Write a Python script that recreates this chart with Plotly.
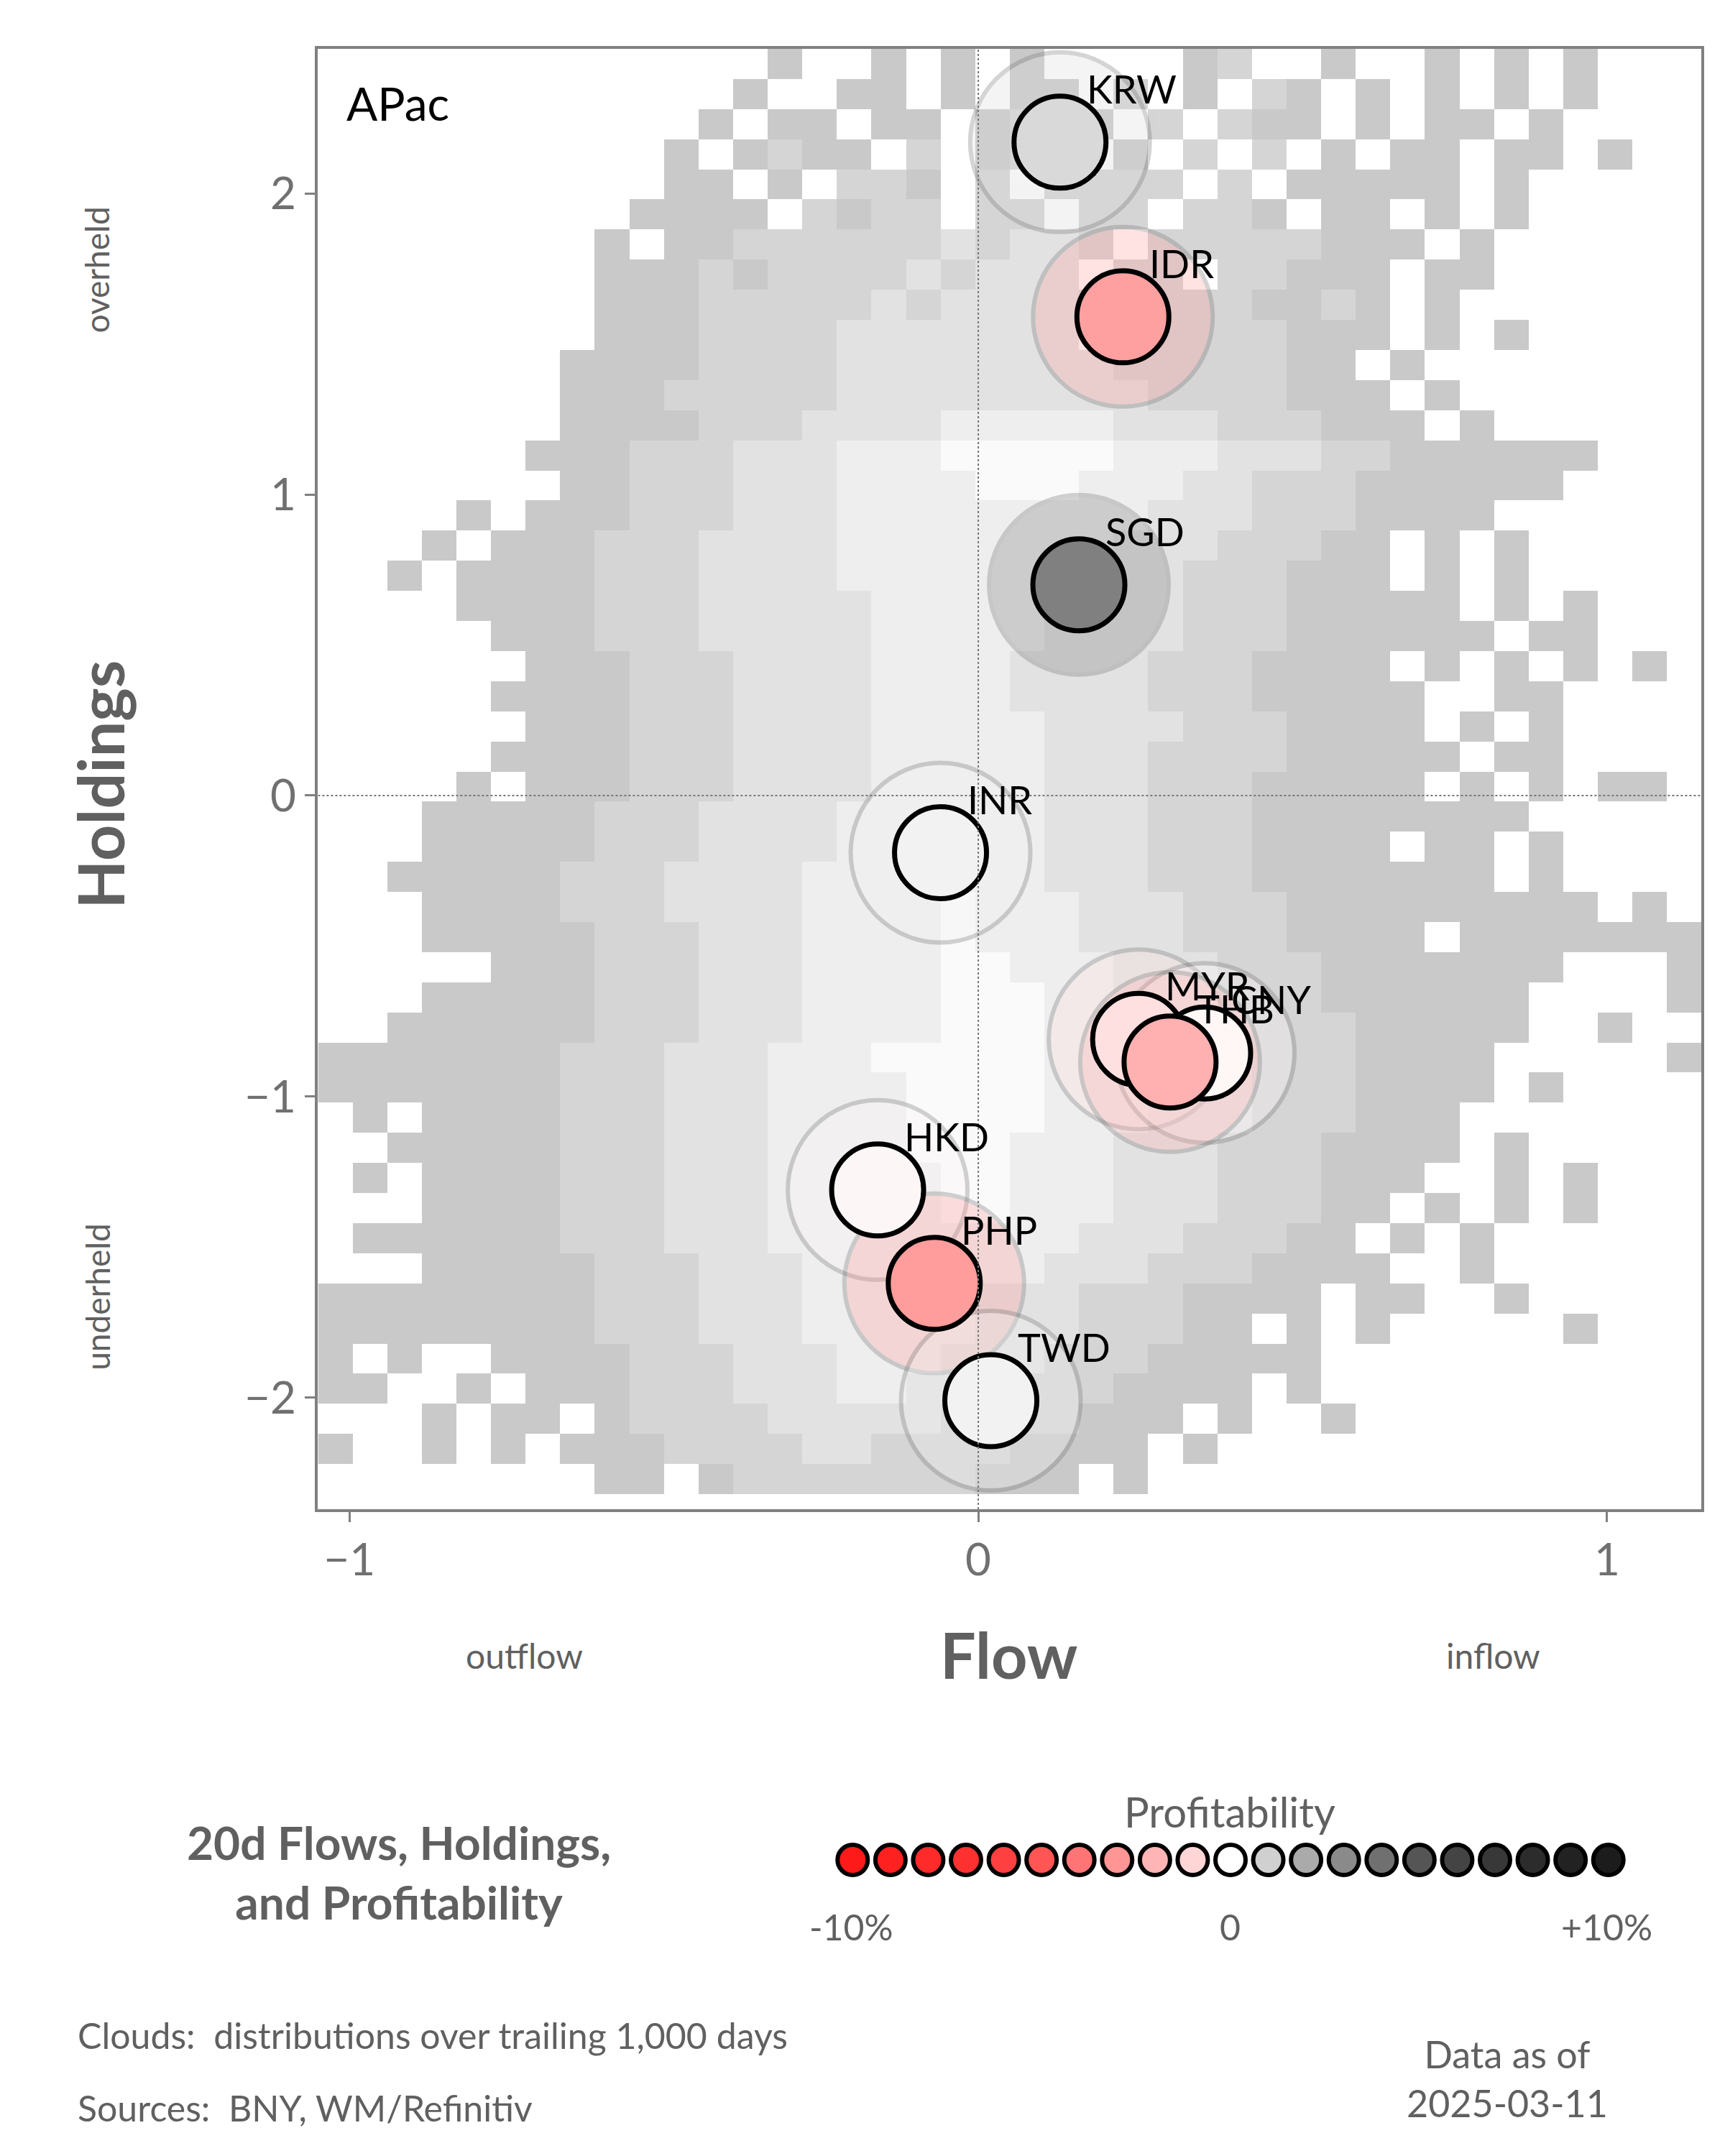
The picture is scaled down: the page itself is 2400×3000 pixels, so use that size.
import plotly.graph_objects as go

# ---- data ----
ccy = ["KRW", "IDR", "SGD", "INR", "MYR", "CNY", "THB", "HKD", "PHP", "TWD"]
flow = [0.13, 0.23, 0.16, -0.06, 0.255, 0.36, 0.305, -0.16, -0.07, 0.02]
hold = [2.17, 1.59, 0.70, -0.19, -0.81, -0.855, -0.885, -1.31, -1.62, -2.01]
fill = ["#d9d9d9", "#ffa0a0", "#808080", "#f2f2f2", "#ffe0e0", "#fff6f6",
        "#ffb0b0", "#fdf6f6", "#ff9c9c", "#f2f2f2"]

legend_colors = ["#ff1a1a", "#ff2020", "#ff2a2a", "#ff3030", "#ff4040", "#ff5555",
                 "#ff7575", "#ff9595", "#ffb5b5", "#ffd5d5", "#ffffff", "#d0d0d0",
                 "#aaaaaa", "#8a8a8a", "#707070", "#555555", "#444444", "#383838",
                 "#2c2c2c", "#222222", "#1c1c1c"]

# cloud density levels: rows top (y=2.43) to bottom, 40 columns from x=-1.0225 step 0.055
cloud = [
    "             1  1 1 1    12  1  1 1 1   ",
    "            1  11 1 11 2 1 21 1 1 1 1   ",
    "           1 11 11 1211 2 211 1 11 1    ",
    "          1 1211 2 122 1 2 2 1 11 11 1  ",
    "          11 1 221 2 2222 2 11111 1     ",
    "         1111 2122 22 22 221 11 1 1     ",
    "        1 1122222232332 22222111 1      ",
    "        11121222232333 22 22111 11      ",
    "        111222223233332 2221121 1       ",
    "        11122223333333 22222111 1 1     ",
    "       11112222333333332222211 1        ",
    "       111222223333333332222111 1       ",
    "       1111222333344444333222111 1      ",
    "      1112223334445555544433322111111   ",
    "       11222333444455544433222111111    ",
    "    1 1112223334444444443332221111     ",
    "   1 11122233334444444433322211 1 1    ",
    "  1 111122233334444444333222111 1 1    ",
    "    11112223333344444333322211111 1 1  ",
    "     11122233333444443333222111111 11  ",
    "      1112223333444433332221111 1 1 1 1",
    "     111122233334444333322211111  11   ",
    "      11122233334444433332221111 1 1   ",
    "     1111222333344444333222211111 11   ",
    "    1 11122233334444433322211111 1 1 11",
    "   11111222333344444433322211111111    ",
    "   1111122233334444443332221111 11 1   ",
    "  11111222333344444443332221111111 1   ",
    "   1111222333344445444333222111111111 1",
    "   11111222333444454443332221111 1111111",
    "     1112223334444554443332221111111   1",
    "   11111222333444455544333222111111    1",
    "  111111222333444455544433322211111  1  ",
    "1111111222333444555554443332221111     1",
    "1111111222333444455554443332221111 1    ",
    " 1 111122233344445555444333222111       ",
    "  1111122233344445554443332221111 1     ",
    " 1 11112223334444455444333222111  1 1   ",
    "   1111222333444445544433322211 1 1 1   ",
    " 11111122233344444444433322211 1 1      ",
    "   1111122233344444443332221111  1      ",
    "11111111222333444443332221111 11  1     ",
    "111111112223334444433322211 1 1     1   ",
    "1 1  111122233344433322211111           ",
    "11  1 111222333443332221111 1           ",
    "   1 11 12222333332222111 1  1          ",
    "1  1 1 11122223322221111 1              ",
    "        11 12222222111 1                ",
]

z = []
for row in cloud:
    r = row.ljust(40)[:40]
    z.append([None if ch == " " else int(ch) for ch in r])

FONT = "Lato"
GREY = "#606060"
fig = go.Figure()

fig.add_trace(go.Heatmap(
    z=z, x0=-1.0225, dx=0.055, y0=2.43, dy=-0.1,
    colorscale=[[0, "#c9c9c9"], [1, "#fafafa"]], zmin=1, zmax=5,
    showscale=False, hoverinfo="skip"))

# halos
fig.add_trace(go.Scatter(
    x=flow, y=hold, mode="markers", hoverinfo="skip",
    marker=dict(size=250, color=fill, opacity=0.3,
                line=dict(color="#707070", width=6))))
# main circles
fig.add_trace(go.Scatter(
    x=flow, y=hold, mode="markers", hoverinfo="skip",
    marker=dict(size=128, color=fill, line=dict(color="black", width=7))))

for c, xv, yv in zip(ccy, flow, hold):
    fig.add_annotation(x=xv, y=yv, text=c, showarrow=False, xanchor="left",
                       yanchor="bottom", xshift=35, yshift=40,
                       font=dict(family=FONT, size=54, color="black"))

# legend dots
n = len(legend_colors)
fig.add_trace(go.Scatter(
    x=list(range(n)), y=[0] * n, mode="markers", xaxis="x2", yaxis="y2",
    hoverinfo="skip",
    marker=dict(size=42, color=legend_colors, line=dict(color="black", width=6))))

axis_common = dict(tickfont=dict(size=62, color="#707070"), ticks="outside",
                   ticklen=14, tickcolor="#808080", tickwidth=3,
                   showgrid=False, zeroline=False, showline=True,
                   linecolor="#808080", linewidth=4, mirror=True)

fig.update_layout(
    width=2400, height=3000, showlegend=False,
    margin=dict(l=0, r=0, t=0, b=0),
    plot_bgcolor="white", paper_bgcolor="white",
    font=dict(family=FONT, color=GREY),
    xaxis=dict(domain=[0.181, 0.983], range=[-1.05, 1.15],
               tickvals=[-1, 0, 1], ticktext=["\u22121", "0", "1"],
               anchor="y", **axis_common),
    yaxis=dict(domain=[0.3027, 0.98], range=[-2.37, 2.48],
               tickvals=[-2, -1, 0, 1, 2],
               ticktext=["\u22122", "\u22121", "0", "1", "2"],
               anchor="x", **axis_common),
    xaxis2=dict(domain=[0.48, 0.94], range=[-0.5, n - 0.5], visible=False,
                anchor="y2"),
    yaxis2=dict(domain=[0.125, 0.155], range=[-1, 1], visible=False,
                anchor="x2"),
)
fig.add_shape(type="line", x0=0, x1=0, y0=-2.37, y1=2.48, xref="x", yref="y",
              line=dict(color="#777777", width=2, dash="dot"))
fig.add_shape(type="line", x0=-1.05, x1=1.15, y0=0, y1=0, xref="x", yref="y",
              line=dict(color="#777777", width=2, dash="dot"))

def ann(x, y, text, size, color=GREY, bold=False, anchor="center",
        yanchor="middle", angle=0):
    if bold:
        text = "<b>" + text + "</b>"
    fig.add_annotation(x=x, y=y, xref="paper", yref="paper", text=text,
                       showarrow=False, xanchor=anchor, yanchor=yanchor,
                       textangle=angle, font=dict(family=FONT, size=size,
                                                  color=color))

ann(246 / 1250, 1 - 70 / 1550, "APac", 64, color="black", anchor="left")
ann(727 / 1250, 1 - 1185 / 1550, "Flow", 88, bold=True)
ann(376 / 1250, 1 - 1186 / 1550, "outflow", 48)
ann(1078 / 1250, 1 - 1186 / 1550, "inflow", 48)
ann(68 / 1250, 1 - 560 / 1550, "Holdings", 88, bold=True, angle=-90)
ann(66 / 1250, 1 - 190 / 1550, "overheld", 46, angle=-90)
ann(66 / 1250, 1 - 928 / 1550, "underheld", 46, angle=-90)
ann(285 / 1250, 1 - 1342 / 1550, "20d Flows, Holdings,<br>and Profitability",
    64, bold=True)
ann(887 / 1250, 1 - 1298 / 1550, "Profitability", 58)
ann(613 / 1250, 1 - 1381 / 1550, "-10%", 50)
ann(887 / 1250, 1 - 1381 / 1550, "0", 50)
ann(1160 / 1250, 1 - 1381 / 1550, "+10%", 50)
ann(51 / 1250, 1 - 1459 / 1550, "Clouds:  distributions over trailing 1,000 days",
    50, anchor="left")
ann(51 / 1250, 1 - 1511 / 1550, "Sources:  BNY, WM/Refinitiv", 50, anchor="left")
ann(1088 / 1250, 1 - 1490 / 1550, "Data as of<br>2025-03-11", 52)

fig.write_html("out.html")
